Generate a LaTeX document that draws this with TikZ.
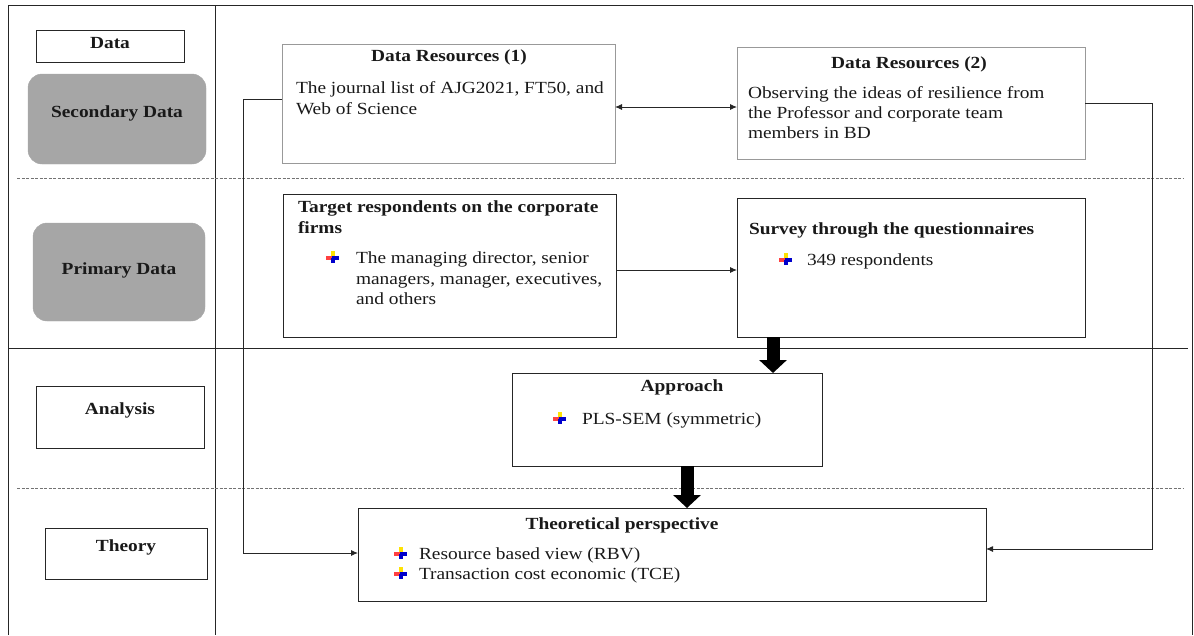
\documentclass[tikz,border=0pt]{standalone}
\usepackage{fontspec}
\setmainfont{Liberation Serif}[FakeStretch=1.14]
\usetikzlibrary{arrows.meta}

\begin{document}
\begin{tikzpicture}[x=1pt,y=-1pt,
  every node/.style={inner sep=0pt, outer sep=0pt, text=black!90},
  txt/.style={font=\fontsize{17}{20}\selectfont},
  btxt/.style={font=\fontsize{17}{20}\selectfont\bfseries},
  rule/.style={draw=black!85, line width=0.9pt},
  sep/.style={draw=black!55, line width=0.9pt, dash pattern=on 3pt off 1.5pt},
  tagbox/.style={draw=black!85, line width=0.9pt, anchor=north west},
  shadebox/.style={draw=black!35, fill=black!35, rounded corners=14pt, anchor=north west},
  srcbox/.style={draw=black!40, line width=0.9pt, anchor=north west},
  stepbox/.style={draw=black!85, line width=1pt, anchor=north west},
  link/.style={draw=black!85, line width=0.9pt, -{Latex[length=7pt,width=6pt]}},
  biglink/.style={draw=black, line width=13pt, -{Triangle[length=13pt,width=27pt]}},
  listmark/.pic={
    \fill[yellow!85!orange] (-1.6,-7) rectangle (1.6,0);
    \fill[red!75] (-7,-1.6) rectangle (0,2);
    \fill[blue!80!black] (-1.5,-1.6) rectangle (6,2);
    \fill[blue!80!black] (-1.6,0) rectangle (1.6,5);
  }
]
\useasboundingbox (0,0) rectangle (1194,635);

% outer frame and column divider
\draw[rule] (8,635) -- (8,5) -- (1192,5) -- (1192,635);
\draw[rule] (215,5) -- (215,635);
% row separators
\draw[sep] (17,178) -- (1183,178);
\draw[rule] (8,348) -- (1188,348);
\draw[sep] (17,488) -- (1183,488);

% left column labels
\node[tagbox, minimum width=148, minimum height=32] (data) at (36,30) {};
\node[btxt, anchor=base] (datat) at (110,48) {Data};
\node[shadebox, minimum width=178, minimum height=90] (sec) at (28,74) {};
\node[btxt, anchor=base] (sect) at (117,117) {Secondary Data};
\node[shadebox, minimum width=172, minimum height=98] (pri) at (33,223) {};
\node[btxt, anchor=base] (prit) at (119,274) {Primary Data};
\node[tagbox, minimum width=168, minimum height=62] (ana) at (36,386) {};
\node[btxt, anchor=base] (anat) at (120,414) {Analysis};
\node[tagbox, minimum width=162, minimum height=51] (the) at (45,528) {};
\node[btxt, anchor=base] (thet) at (126,551) {Theory};

% data resources
\node[srcbox, minimum width=333, minimum height=119] (dr1) at (282,44) {};
\node[btxt, anchor=base] (dr1t) at (449,61) {Data Resources (1)};
\node[txt, anchor=base west] (dr1a) at (296,93) {The journal list of AJG2021, FT50, and};
\node[txt, anchor=base west] (dr1b) at (296,114) {Web of Science};

\node[srcbox, minimum width=348, minimum height=112] (dr2) at (737,47) {};
\node[btxt, anchor=base] (dr2t) at (909,68) {Data Resources (2)};
\node[txt, anchor=base west] (dr2a) at (748,98) {Observing the ideas of resilience from};
\node[txt, anchor=base west] (dr2b) at (748,118) {the Professor and corporate team};
\node[txt, anchor=base west] (dr2c) at (748,138) {members in BD};

% primary data boxes
\node[stepbox, minimum width=333, minimum height=143] (tgt) at (283,194) {};
\node[btxt, anchor=base west] (tgta) at (298,212) {Target respondents on the corporate};
\node[btxt, anchor=base west] (tgtb) at (298,233) {firms};
\pic at (333,258) {listmark};
\node[txt, anchor=base west] (tgtc) at (356,263) {The managing director, senior};
\node[txt, anchor=base west] (tgtd) at (356,284) {managers, manager, executives,};
\node[txt, anchor=base west] (tgte) at (356,304) {and others};

\node[stepbox, minimum width=348, minimum height=139] (svy) at (737,198) {};
\node[btxt, anchor=base west] (svya) at (749,234) {Survey through the questionnaires};
\pic at (786,260) {listmark};
\node[txt, anchor=base west] (svyb) at (807,265) {349 respondents};

% analysis
\node[stepbox, minimum width=310, minimum height=93] (apr) at (512,373) {};
\node[btxt, anchor=base] (apra) at (682,391) {Approach};
\pic at (560,419) {listmark};
\node[txt, anchor=base west] (aprb) at (582,424) {PLS-SEM (symmetric)};

% theory
\node[stepbox, minimum width=628, minimum height=93] (thy) at (358,508) {};
\node[btxt, anchor=base] (thya) at (622,529) {Theoretical perspective};
\pic at (401,554) {listmark};
\node[txt, anchor=base west] (thyb) at (419,559) {Resource based view (RBV)};
\pic at (401,574) {listmark};
\node[txt, anchor=base west] (thyc) at (419,579) {Transaction cost economic (TCE)};

% connectors
\coordinate (lbend) at (243,553);
\coordinate (rbend) at (1152,549);
\draw[link, {Latex[length=7pt,width=6pt]}-{Latex[length=7pt,width=6pt]}] (dr1.east |- 0,107) -- (dr2.west |- 0,107);
\draw[link] (dr1.west |- 0,99) -| (lbend) -- (thy.west |- lbend);
\draw[link] (dr2.east |- 0,103) -| (rbend) -- (thy.east |- rbend);
\draw[link] (tgt.east |- 0,270) -- (svy.west |- 0,270);
\draw[biglink] (svy.south -| 773,0) -- (apr.north -| 773,0);
\draw[biglink] (apr.south -| 687,0) -- (thy.north -| 687,0);
\end{tikzpicture}
\end{document}
